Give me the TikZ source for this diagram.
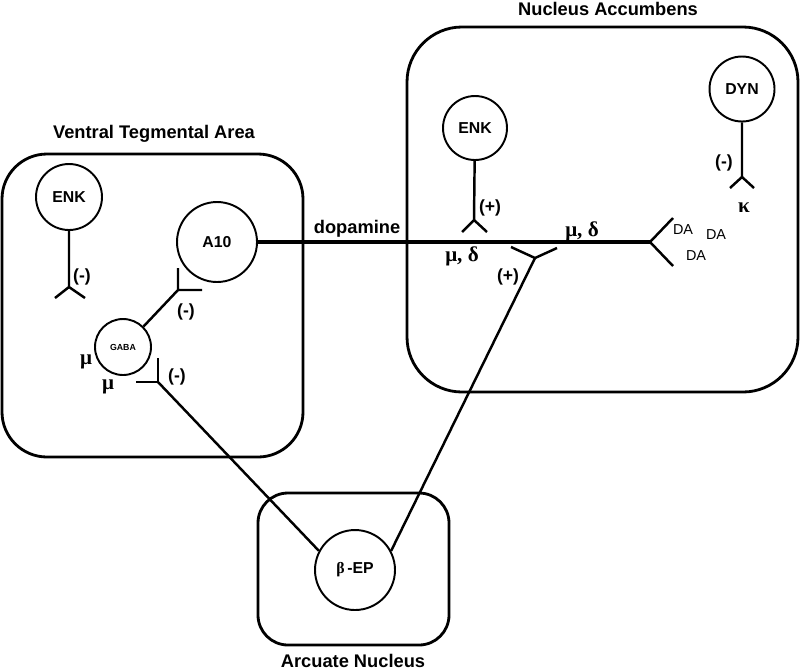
\documentclass[tikz,border=0pt]{standalone}
\usepackage{fontspec}
\setmainfont{Liberation Sans}
\newfontfamily\greekfont{Liberation Serif}
\usetikzlibrary{positioning,calc}

\begin{document}
\begin{tikzpicture}[x=0.02cm,y=-0.02cm,
  cell/.style={circle,draw,line width=1.1pt,inner sep=0pt,minimum size=#1,
    font=\fontsize{9}{10}\selectfont\bfseries},
  area/.style={draw,line width=1.6pt},
  axon/.style={line width=1.4pt},
  dopa/.style={line width=1.9pt},
  title/.style={font=\fontsize{10.4}{12}\selectfont\bfseries},
  sign/.style={font=\fontsize{10}{12}\selectfont\bfseries,inner sep=0pt},
  rcpt/.style={font=\fontsize{12}{14}\selectfont\greekfont\bfseries,inner sep=0pt},
  da/.style={font=\fontsize{8.2}{10}\selectfont,inner sep=0pt}]
\useasboundingbox (0,0) rectangle (800,670);

% regions
\draw[area,rounded corners=0.9cm] (2,154) rectangle (303,457);
\draw[area,rounded corners=1.1cm] (407,27) rectangle (798,392);
\draw[area,rounded corners=0.6cm] (258,493) rectangle (449,645);
\node[title] (vta) at (154,134) {Ventral Tegmental Area};
\node[title] (nac) at (608,9) {Nucleus Accumbens};
\node[title] (arc) at (353,661) {Arcuate Nucleus};

% cells
\node[cell=1.32cm] (enkV) at (69,197) {ENK};
\node[cell=1.6cm] (a10) at (217,242) {A10};
\node[cell=1.12cm] (gaba) at (123,347) {\fontsize{5}{5}\selectfont GABA};
\node[cell=1.28cm] (enkN) at (475,128) {ENK};
\node[cell=1.3cm] (dyn) at (742,89) {DYN};
\node[cell=1.6cm] (bep) at (355,570) {{\greekfont β}\,-EP};

% receptor points
\coordinate (enkVf) at (69,287);
\coordinate (gabaf) at (178,290);
\coordinate (gabar) at (158,382);
\coordinate (enkNf) at (474,220);
\coordinate (accf) at (535,258);
\coordinate (dynf) at (742,177);
\coordinate (daf) at (650,242);

% VTA
\draw[axon] (enkV) -- (enkVf) -- ++(-14,11) (enkVf) -- ++(16,11);
\node[sign] (s1) at (82,277) {(-)};
\draw[axon] (gaba.45) -- (gabaf) -- ++(0,-22) (gabaf) -- ++(24,0);
\node[sign] (s2) at (186,312) {(-)};
\draw[axon] (gabar) -- ++(0,-24) (gabar) -- ++(-22,0);
\node[sign] (s3) at (177,377) {(-)};
\node[rcpt] (mu1) at (86,362) {μ};
\node[rcpt] (mu2) at (108,387) {μ};

% dopamine projection
\draw[dopa] (a10) -- (daf);
\draw[axon] (daf) -- ++(23,-24) (daf) -- ++(23,24);
\node[title] (dop) at (357,229) {dopamine};
\node[da] (da1) at (683,230) {DA};
\node[da] (da2) at (716,235) {DA};
\node[da] (da3) at (696,256) {DA};

% NAc
\draw[axon] (enkN) -- (enkNf) -- ++(-12,12) (enkNf) -- ++(13,12);
\node[sign] (s4) at (490,208) {(+)};
\node[rcpt] (md1) at (462,256) {μ, δ};
\node[rcpt] (md2) at (582,231) {μ, δ};
\draw[axon] (accf) -- ++(-24,-11) (accf) -- ++(22,-10);
\node[sign] (s5) at (508,277) {(+)};
\draw[axon] (dyn) -- (dynf) -- ++(-12,11) (dynf) -- ++(12,11);
\node[sign] (s6) at (724,163) {(-)};
\node[rcpt] (kap) at (744,208) {κ};

% beta-endorphin projections
\draw[axon] (bep.152) -- (gabar);
\draw[axon] (bep.28) -- (accf);
\end{tikzpicture}
\end{document}
